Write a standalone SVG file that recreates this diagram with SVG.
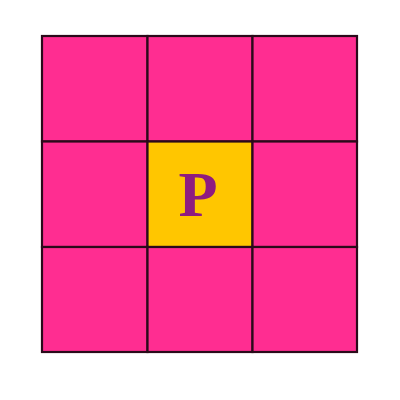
<svg xmlns="http://www.w3.org/2000/svg" width="400" height="400" viewBox="0 0 400 400">
<style>
.c{fill:#FF2D91;stroke:#2A0A1A;stroke-width:2.2}
.y{fill:#FFC600;stroke:#2A0A1A;stroke-width:2.2}
.t{font-family:"Liberation Serif",serif;font-weight:bold;font-size:64px;fill:#8E1C80;text-anchor:middle}
</style>
<rect width="400" height="400" fill="#fff"/>
<g id="cell-0-0"><rect class="c" x="42" y="36" width="105.5" height="105.5"/></g>
<g id="cell-0-1"><rect class="c" x="147.5" y="36" width="105" height="105.5"/></g>
<g id="cell-0-2"><rect class="c" x="252.5" y="36" width="104.5" height="105.5"/></g>
<g id="cell-1-0"><rect class="c" x="42" y="141.5" width="105.5" height="105.5"/></g>
<g id="cell-1-1"><rect class="y" x="147.5" y="141.5" width="105" height="105.5"/><text class="t" x="198" y="216">P</text></g>
<g id="cell-1-2"><rect class="c" x="252.5" y="141.5" width="104.5" height="105.5"/></g>
<g id="cell-2-0"><rect class="c" x="42" y="247" width="105.5" height="105"/></g>
<g id="cell-2-1"><rect class="c" x="147.5" y="247" width="105" height="105"/></g>
<g id="cell-2-2"><rect class="c" x="252.5" y="247" width="104.5" height="105"/></g>
<g id="connectors"></g>
</svg>
